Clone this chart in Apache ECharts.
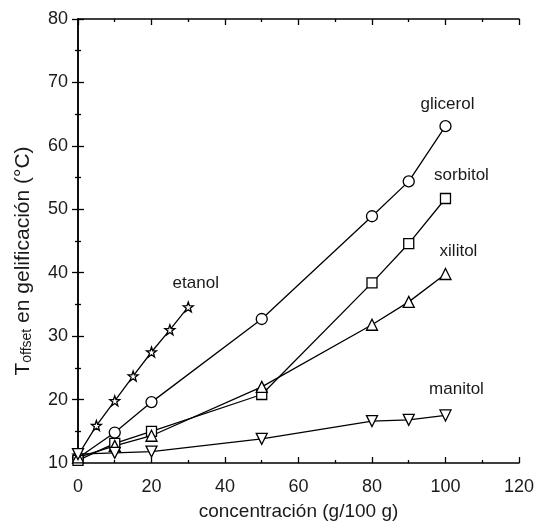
<!DOCTYPE html>
<html>
<head>
<meta charset="utf-8">
<script src="https://cdn.jsdelivr.net/npm/echarts@6/dist/echarts.min.js"></script>
<style>html,body{margin:0;padding:0;background:#fff}#c{width:537px;height:529px}</style>
</head>
<body>
<div id="c"></div>
<script>
var etanolX = [0, 5, 10, 15, 20, 25, 30];
var etanolY = [11.2, 15.9, 19.8, 23.7, 27.5, 31.0, 34.6];
var concX = [0, 10, 20, 50, 80, 90, 100];
var glicerol = [10.8, 14.8, 19.6, 32.7, 48.9, 54.4, 63.1];
var sorbitol = [10.4, 13.1, 15.0, 20.8, 38.4, 44.6, 51.7];
var xilitol = [10.9, 12.7, 14.3, 22.0, 31.8, 35.4, 39.8];
var manitol = [11.4, 11.6, 11.8, 13.8, 16.6, 16.8, 17.5];
var xTicks = [0, 20, 40, 60, 80, 100, 120];
var yTicks = [10, 20, 30, 40, 50, 60, 70, 80];

var FONT = 'Liberation Sans, Arial, sans-serif';
var TXT = '#1a1a1a';
var starPath = 'path://M0,-10 L2.35,-3.24 L9.51,-3.09 L3.8,1.24 L5.88,8.09 L0,4 L-5.88,8.09 L-3.8,1.24 L-9.51,-3.09 L-2.35,-3.24 Z';

function pairs(xs, ys) { return xs.map(function (x, i) { return [x, ys[i]]; }); }

function mkSeries(name, xs, ys, symbol, size, rot, off) {
  var d = pairs(xs, ys).map(function (p, i, arr) {
    if (i === arr.length - 1) {
      return { value: p, label: { show: true, formatter: name, position: 'top', offset: off,
        color: TXT, fontSize: 17, fontFamily: FONT } };
    }
    return p;
  });
  return {
    type: 'line', name: name, data: d, symbol: symbol, symbolSize: size, symbolRotate: rot || 0,
    showAllSymbol: true,
    lineStyle: { color: '#000', width: 1.3 },
    itemStyle: { color: '#fff', borderColor: '#000', borderWidth: 1.3 },
    z: 3, animation: false
  };
}

var axisCommon = {
  axisLine: { show: true, lineStyle: { color: '#000', width: 1.5 } },
  axisTick: { show: true, inside: true, length: 6, lineStyle: { color: '#000', width: 1.3 } },
  minorTick: { show: true, splitNumber: 2, length: 3, lineStyle: { color: '#000', width: 1.3 } },
  splitLine: { show: false }
};

var chart = echarts.init(document.getElementById('c'));
chart.setOption({
  animation: false,
  backgroundColor: '#fff',
  grid: { left: 78, right: 17, top: 19, bottom: 66 },
  xAxis: [
    Object.assign({}, axisCommon, {
      type: 'value', min: 0, max: 120, interval: 20, position: 'bottom',
      axisLabel: { color: TXT, fontSize: 18, fontFamily: FONT, margin: 15,
        formatter: function (v) { return xTicks.indexOf(v) >= 0 ? String(v) : ''; } },
      name: 'concentración (g/100 g)', nameLocation: 'middle', nameGap: 39,
      nameTextStyle: { color: TXT, fontSize: 19, fontFamily: FONT }
    }),
    Object.assign({}, axisCommon, {
      type: 'value', min: 0, max: 120, interval: 20, position: 'top',
      axisLabel: { show: false }
    })
  ],
  yAxis: [
    Object.assign({}, axisCommon, {
      type: 'value', min: 10, max: 80, interval: 10, position: 'left',
      axisLabel: { color: TXT, fontSize: 18, fontFamily: FONT, margin: 10,
        formatter: function (v) { return yTicks.indexOf(v) >= 0 ? String(v) : ''; } },
      name: '{a|T}{b|offset}{a| en gelificación (°C)}', nameLocation: 'middle', nameGap: 44,
      nameRotate: 90,
      nameTextStyle: {
        color: TXT, fontFamily: FONT, padding: [0, 40, 0, 0],
        rich: {
          a: { fontSize: 21, fontFamily: FONT, color: TXT, verticalAlign: 'bottom', lineHeight: 25 },
          b: { fontSize: 14, fontFamily: FONT, color: TXT, verticalAlign: 'bottom', lineHeight: 18 }
        }
      }
    }),
    Object.assign({}, axisCommon, {
      type: 'value', min: 10, max: 80, interval: 10, position: 'right',
      axisLabel: { show: false }
    })
  ],
  series: [
    mkSeries('etanol', etanolX, etanolY, starPath, 10, 0, [7.5, -5]),
    mkSeries('glicerol', concX, glicerol, 'circle', 11, 0, [2, -2]),
    mkSeries('sorbitol', concX, sorbitol, 'rect', 10, 0, [16, -4]),
    mkSeries('xilitol', concX, xilitol, 'triangle', 11, 0, [13, -3]),
    mkSeries('manitol', concX, manitol, 'triangle', 11, 180, [11, -6])
  ]
});
</script>
</body>
</html>
